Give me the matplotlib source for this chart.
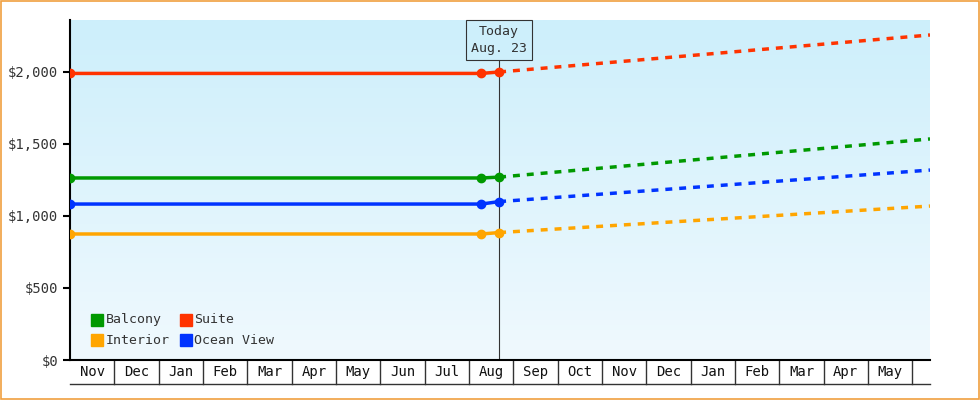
import numpy as np
import matplotlib.pyplot as plt
from matplotlib.patches import Rectangle
from matplotlib.colors import LinearSegmentedColormap

months = ["Nov", "Dec", "Jan", "Feb", "Mar", "Apr", "May", "Jun", "Jul", "Aug",
          "Sep", "Oct", "Nov", "Dec", "Jan", "Feb", "Mar", "Apr", "May"]
names = ["Balcony", "Suite", "Interior", "Ocean View"]
colors = ["#009900", "#ff3300", "#ffa500", "#0033ff"]
past = [1264, 1990, 875, 1083]      # flat history up to the last observation
today_val = [1270, 2000, 885, 1100]  # value at today
future = [1535, 2257, 1069, 1319]    # projected at end of axis
x_last, x_today, x_end = 9.28, 9.68, 19.4

plt.rcParams["font.family"] = "DejaVu Sans Mono"
fig = plt.figure(figsize=(9.8, 4.0), dpi=100)
fig.patches.append(Rectangle((0.001, 0.002), 0.998, 0.996, transform=fig.transFigure,
                             fill=False, edgecolor="#f0a040", lw=1.2))
ax = fig.add_axes([70/980, 40/400, 860/980, 340/400])
ymax = 2361
grad = np.linspace(0, 1, 256).reshape(-1, 1)
cm = LinearSegmentedColormap.from_list("bg", ["#f0f9fe", "#cdeffb"])
ax.imshow(grad, aspect="auto", cmap=cm, extent=[0, x_end, 0, ymax], origin="lower", zorder=0)
ax.set_xlim(0, x_end)
ax.set_ylim(0, ymax)

for n, c, p, t, f in zip(names, colors, past, today_val, future):
    ax.plot([0, x_last, x_today], [p, p, t], color=c, lw=2.5, zorder=3)
    ax.plot([0, x_last, x_today], [p, p, t], "o", color=c, ms=6, zorder=4)
    ax.plot([x_today, x_end], [t, f], color=c, lw=2.5, ls=(0, (2, 2)), zorder=3)

ax.axvline(x_today, color="#333333", lw=0.8, zorder=2)
ax.text(x_today, 2222, "Today\nAug. 23", ha="center", va="center", fontsize=9.5,
        color="#333333", linespacing=1.4,
        bbox=dict(boxstyle="square,pad=0.4", fc="#cdeffb", ec="#333333", lw=0.8), zorder=5)

# legend
for i, (n, c) in enumerate(zip(names, colors)):
    xx = [0.62, 2.62][i % 2]
    yy = [278, 138][i // 2]
    ax.plot(xx, yy, "s", color=c, ms=8)
    ax.text(xx + 0.18, yy, n, va="center", fontsize=9.5, color="#333333")

for s in ["top", "right"]:
    ax.spines[s].set_visible(False)
ax.spines["left"].set_linewidth(1.5)
ax.spines["bottom"].set_linewidth(1.5)
ax.set_yticks([0, 500, 1000, 1500, 2000])
ax.set_yticklabels(["$0", "$500", "$1,000", "$1,500", "$2,000"], fontsize=10, color="#333333")
ax.tick_params(axis="y", length=5, width=1.5)
ax.set_xticks([])
xt = ax.get_xaxis_transform()
for i, m in enumerate(months):
    ax.text(i + 0.5, -12/340, m, transform=xt, ha="center", va="center",
            fontsize=10, color="#111111")
    ax.plot([i + 1, i + 1], [0, -24/340], transform=xt,
            color="#333333", lw=1, clip_on=False)
ax.plot([0, 1], [-24/340, -24/340], transform=ax.transAxes, color="#333333", lw=1, clip_on=False)
fig.savefig("out.png")
